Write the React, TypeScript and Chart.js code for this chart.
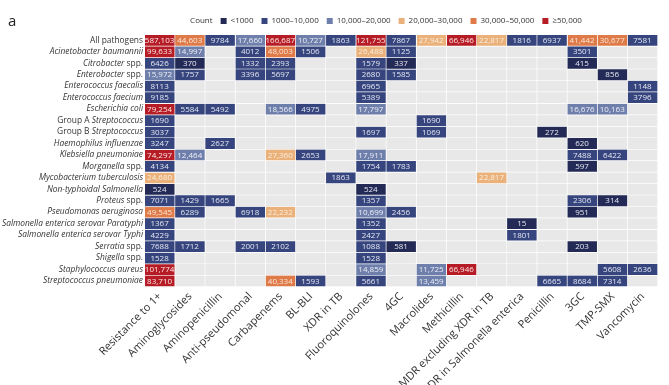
import React, { useEffect, useRef } from 'react';
import { Chart, registerables } from 'chart.js';

Chart.register(...registerables);

const _ = null;

const columns = [
  'Resistance to 1+', 'Aminoglycosides', 'Aminopenicillin', 'Anti-pseudomonal', 'Carbapenems',
  'BL-BLI', 'XDR in TB', 'Fluoroquinolones', '4GC', 'Macrolides', 'Methicillin',
  'MDR excluding XDR in TB', 'MDR in Salmonella enterica', 'Penicillin', '3GC', 'TMP-SMX', 'Vancomycin',
];

const rows = [
  'All pathogens', 'Acinetobacter baumannii', 'Citrobacter spp.', 'Enterobacter spp.',
  'Enterococcus faecalis', 'Enterococcus faecium', 'Escherichia coli', 'Group A Streptococcus',
  'Group B Streptococcus', 'Haemophilus influenzae', 'Klebsiella pneumoniae', 'Morganella spp.',
  'Mycobacterium tuberculosis', 'Non-typhoidal Salmonella', 'Proteus spp.', 'Pseudomonas aeruginosa',
  'Salmonella enterica serovar Paratyphi', 'Salmonella enterica serovar Typhi', 'Serratia spp.',
  'Shigella spp.', 'Staphylococcus aureus', 'Streptococcus pneumoniae',
];

// parts of the row names that are not italic
const uprightParts = ['All pathogens', 'Group A ', 'Group B ', ' spp.'];

const allPathogens = [587103, 44603, 9784, 17660, 166687, 10727, 1863, 121755, 7867, 27942, 66946, 22817, 1816, 6937, 41442, 30677, 7581];
const acinetobacter = [99633, 14997, _, 4012, 48003, 1506, _, 26488, 1125, _, _, _, _, _, 3501, _, _];
const citrobacter = [6426, 370, _, 1332, 2393, _, _, 1579, 337, _, _, _, _, _, 415, _, _];
const enterobacter = [15972, 1757, _, 3396, 5697, _, _, 2680, 1585, _, _, _, _, _, _, 856, _];
const eFaecalis = [8113, _, _, _, _, _, _, 6965, _, _, _, _, _, _, _, _, 1148];
const eFaecium = [9185, _, _, _, _, _, _, 5389, _, _, _, _, _, _, _, _, 3796];
const eColi = [79254, 5584, 5492, _, 18566, 4975, _, 17797, _, _, _, _, _, _, 16676, 10163, _];
const groupAStrep = [1690, _, _, _, _, _, _, _, _, 1690, _, _, _, _, _, _, _];
const groupBStrep = [3037, _, _, _, _, _, _, 1697, _, 1069, _, _, _, 272, _, _, _];
const hInfluenzae = [3247, _, 2627, _, _, _, _, _, _, _, _, _, _, _, 620, _, _];
const kPneumoniae = [74297, 12464, _, _, 27360, 2653, _, 17911, _, _, _, _, _, _, 7488, 6422, _];
const morganella = [4134, _, _, _, _, _, _, 1754, 1783, _, _, _, _, _, 597, _, _];
const mTuberculosis = [24680, _, _, _, _, _, 1863, _, _, _, _, 22817, _, _, _, _, _];
const ntSalmonella = [524, _, _, _, _, _, _, 524, _, _, _, _, _, _, _, _, _];
const proteus = [7071, 1429, 1665, _, _, _, _, 1357, _, _, _, _, _, _, 2306, 314, _];
const pAeruginosa = [49545, 6289, _, 6918, 22232, _, _, 10699, 2456, _, _, _, _, _, 951, _, _];
const paratyphi = [1367, _, _, _, _, _, _, 1352, _, _, _, _, 15, _, _, _, _];
const typhi = [4229, _, _, _, _, _, _, 2427, _, _, _, _, 1801, _, _, _, _];
const serratia = [7688, 1712, _, 2001, 2102, _, _, 1088, 581, _, _, _, _, _, 203, _, _];
const shigella = [1528, _, _, _, _, _, _, 1528, _, _, _, _, _, _, _, _, _];
const sAureus = [101774, _, _, _, _, _, _, 14859, _, 11725, 66946, _, _, _, _, 5608, 2636];
const sPneumoniae = [83710, _, _, _, 40334, 1593, _, 5661, _, 13459, _, _, _, 6665, 8684, 7314, _];

const rowValues = [
  allPathogens, acinetobacter, citrobacter, enterobacter, eFaecalis, eFaecium, eColi, groupAStrep,
  groupBStrep, hInfluenzae, kPneumoniae, morganella, mTuberculosis, ntSalmonella, proteus, pAeruginosa,
  paratyphi, typhi, serratia, shigella, sAureus, sPneumoniae,
];

const categories = ['<1000', '1000–10,000', '10,000–20,000', '20,000–30,000', '30,000–50,000', '≥50,000'];
const thresholds = [1000, 10000, 20000, 30000, 50000];

const categoryColors = ['#232a56', '#36457e', '#6f7fab', '#eab17a', '#df7b49', '#b61c25'];
const categoryText = ['#e4e7f1', '#e4e7f1', '#eef0f7', '#fbeee0', '#fbe6d8', '#fbe8e8'];
const emptyColor = '#e8e8e8';
const FONT = '"Open Sans", "DejaVu Sans", sans-serif';

function categoryOf(v: number) {
  return thresholds.filter((t) => v >= t).length;
}

function formatCount(v: number) {
  return v >= 10000 ? v.toLocaleString('en-US') : String(v);
}

function splitLabel(label: string): [string, boolean][] {
  let parts: [string, boolean][] = [[label, true]];
  uprightParts.forEach((u) => {
    const next: [string, boolean][] = [];
    parts.forEach(([t, it]) => {
      if (!it || !t.includes(u)) { next.push([t, it]); return; }
      const idx = t.indexOf(u);
      if (idx > 0) next.push([t.slice(0, idx), true]);
      next.push([u, false]);
      if (idx + u.length < t.length) next.push([t.slice(idx + u.length), true]);
    });
    parts = next;
  });
  return parts;
}

const cellLabels = {
  id: 'cellLabels',
  afterDatasetsDraw(chart: any) {
    const ctx = chart.ctx;
    ctx.save();
    ctx.font = `8px ${FONT}`;
    ctx.textAlign = 'center';
    ctx.textBaseline = 'middle';
    categories.forEach((_c, k) => {
      const meta = chart.getDatasetMeta(k);
      const ds = chart.data.datasets[k];
      meta.data.forEach((el: any, i: number) => {
        const raw = ds.data[i];
        ctx.fillStyle = categoryText[k];
        ctx.fillText(formatCount(raw.v), (el.x + el.base) / 2 - 0.5, el.y);
      });
    });
    ctx.restore();
  },
};

const rowLabelPlugin = {
  id: 'rowLabels',
  afterDraw(chart: any) {
    const ctx = chart.ctx;
    const y = chart.scales.y;
    const right = chart.chartArea.left - 2;
    ctx.save();
    ctx.textBaseline = 'middle';
    ctx.textAlign = 'left';
    ctx.fillStyle = '#333333';
    rows.forEach((name, r) => {
      const parts = splitLabel(name);
      const fonts = parts.map(([, it]) => `${it ? 'italic ' : ''}8.4px ${FONT}`);
      let total = 0;
      const widths = parts.map(([t], i) => { ctx.font = fonts[i]; const w = ctx.measureText(t).width; total += w; return w; });
      let x = right - total;
      const py = y.getPixelForValue(r) - 0.5;
      parts.forEach(([t], i) => { ctx.font = fonts[i]; ctx.fillText(t, x, py); x += widths[i]; });
    });
    ctx.font = `15px ${FONT}`;
    ctx.fillStyle = '#222';
    ctx.fillText('a', 8, 22);
    ctx.restore();
  },
};

export default function App() {
  const ref = useRef<HTMLCanvasElement>(null);
  useEffect(() => {
    if (!ref.current) return;
    const catData: any[][] = categories.map(() => []);
    const empty: any[] = [];
    rowValues.forEach((vals, r) => {
      vals.forEach((v, c) => {
        if (v === null) empty.push({ x: [c, c + 1], y: rows[r] });
        else catData[categoryOf(v)].push({ x: [c, c + 1], y: rows[r], v });
      });
    });
    const barStyle = {
      borderColor: '#ffffff',
      borderWidth: { top: 0, left: 0, right: 1, bottom: 1 },
      borderSkipped: false,
      barPercentage: 1,
      categoryPercentage: 1,
      grouped: false,
    };
    const chart = new Chart(ref.current, {
      type: 'bar',
      data: {
        labels: rows,
        datasets: [
          ...categories.map((c, k) => ({ label: c, data: catData[k], backgroundColor: categoryColors[k], ...barStyle })),
          { label: 'empty', data: empty, backgroundColor: emptyColor, ...barStyle },
        ] as any,
      },
      options: {
        indexAxis: 'y',
        animation: false,
        responsive: false,
        devicePixelRatio: 1,
        events: [],
        layout: { padding: { top: 9, left: 104, right: 11, bottom: 0 } },
        plugins: {
          tooltip: { enabled: false },
          legend: {
            position: 'top',
            labels: {
              boxWidth: 6,
              boxHeight: 6,
              padding: 8,
              color: '#333333',
              font: { family: FONT, size: 8 },
              generateLabels: () => [
                { text: 'Count', fillStyle: 'rgba(0,0,0,0)', strokeStyle: 'rgba(0,0,0,0)', lineWidth: 0, hidden: false, fontColor: '#333333' },
                ...categories.map((c, k) => ({ text: c, fillStyle: categoryColors[k], strokeStyle: categoryColors[k], lineWidth: 0, hidden: false, datasetIndex: k, fontColor: '#333333' })),
              ],
            },
          },
        },
        scales: {
          x: {
            type: 'linear',
            position: 'bottom',
            min: 0,
            max: columns.length,
            grid: { display: false, drawTicks: false },
            border: { display: false },
            afterBuildTicks: (s: any) => { s.ticks = columns.map((_c, i) => ({ value: i + 0.5 })); },
            afterFit: (s: any) => { s.height = 98; },
            ticks: {
              autoSkip: false,
              minRotation: 45,
              maxRotation: 45,
              padding: 3,
              color: '#333333',
              font: { family: FONT, size: 11 },
              callback: (_v: any, i: number) => columns[i],
            },
          },
          y: {
            type: 'category',
            labels: rows,
            offset: true,
            grid: { display: false, drawTicks: false },
            border: { display: false },
            ticks: { display: false },
            afterFit: (s: any) => { s.width = 41; },
          },
        },
      } as any,
      plugins: [cellLabels, rowLabelPlugin],
    });
    return () => chart.destroy();
  }, []);
  return (
    <div style={{ position: 'absolute', left: 0, top: 0, width: 669, height: 385, background: '#fff' }}>
      <canvas ref={ref} width={669} height={385} style={{ display: 'block' }} />
    </div>
  );
}
